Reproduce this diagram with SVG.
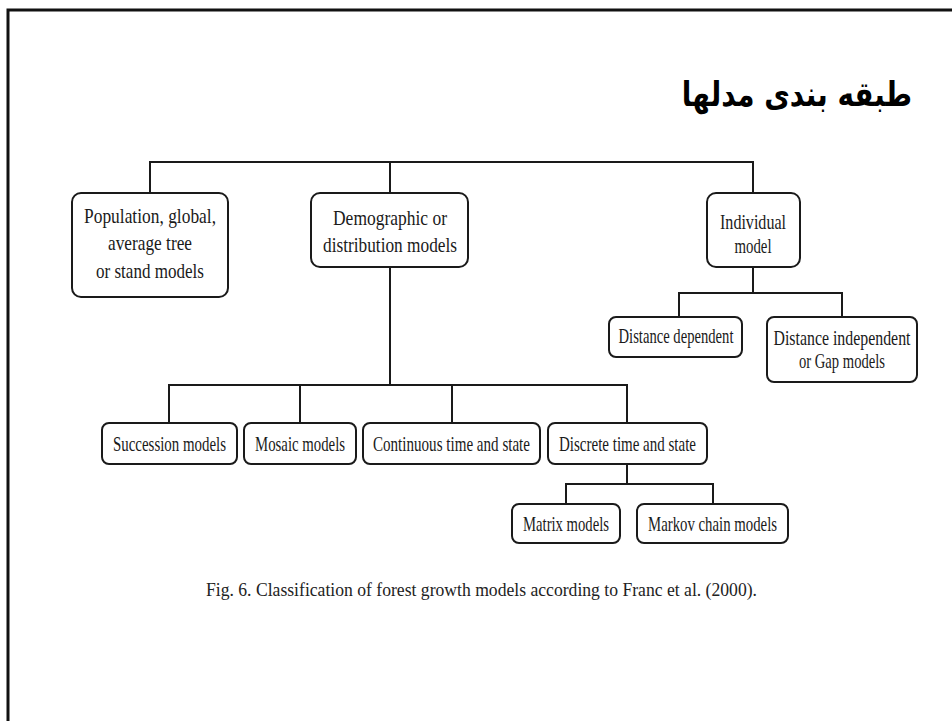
<svg xmlns="http://www.w3.org/2000/svg" width="952" height="721" viewBox="0 0 952 721">
<style>
  .box { fill: #ffffff; stroke: #1a1a1a; stroke-width: 2; }
  .lbl { font-family: "Liberation Serif", "Times New Roman", serif; font-size: 20px; fill: #1a1a1a; text-anchor: middle; }
  .con { fill: none; stroke: #1a1a1a; stroke-width: 2; }
  .cap { font-family: "Liberation Serif", "Times New Roman", serif; font-size: 19px; fill: #222; }
  .title { font-family: "DejaVu Sans", "Noto Sans", sans-serif; font-size: 34px; font-weight: bold; fill: #000; text-anchor: end; }
</style>
<rect x="0" y="0" width="952" height="721" fill="#ffffff"/>
<path d="M8,721 V10 H952" fill="none" stroke="#111" stroke-width="3"/>

<g id="title"><text class="title" x="0" y="0" transform="translate(912,106) scale(0.82,1)">طبقه بندی مدلها</text></g>

<g id="connectors">
  <path class="con" d="M150,193 V162 H753 V193"/>
  <path class="con" d="M390,162 V193"/>
  <path class="con" d="M390,267 V385"/>
  <path class="con" d="M169,423 V385 H627 V423"/>
  <path class="con" d="M300,385 V423"/>
  <path class="con" d="M452,385 V423"/>
  <path class="con" d="M753,267 V293"/>
  <path class="con" d="M679,317 V293 H842 V317"/>
  <path class="con" d="M627,464 V484"/>
  <path class="con" d="M566,504 V484 H713 V504"/>
</g>

<g id="n-population">
  <rect class="box" x="72" y="193" width="156" height="104" rx="9"/>
  <text class="lbl" transform="translate(150,223) scale(0.73,1)" textLength="180.8" lengthAdjust="spacingAndGlyphs">Population, global,</text>
  <text class="lbl" transform="translate(150,250) scale(0.73,1)" textLength="115.1" lengthAdjust="spacingAndGlyphs">average tree</text>
  <text class="lbl" transform="translate(150,278) scale(0.73,1)" textLength="147.9" lengthAdjust="spacingAndGlyphs">or stand models</text>
</g>
<g id="n-demographic">
  <rect class="box" x="311" y="193" width="157" height="74" rx="9"/>
  <text class="lbl" transform="translate(390,225) scale(0.73,1)" textLength="156.2" lengthAdjust="spacingAndGlyphs">Demographic or</text>
  <text class="lbl" transform="translate(390,252) scale(0.73,1)" textLength="183.6" lengthAdjust="spacingAndGlyphs">distribution models</text>
</g>
<g id="n-individual">
  <rect class="box" x="707" y="193" width="93" height="74" rx="9"/>
  <text class="lbl" transform="translate(753,229) scale(0.73,1)" textLength="90.4" lengthAdjust="spacingAndGlyphs" style="font-size:21px">Individual</text>
  <text class="lbl" transform="translate(753,253) scale(0.73,1)" textLength="50.7" lengthAdjust="spacingAndGlyphs" style="font-size:21px">model</text>
</g>
<g id="n-dist-dep">
  <rect class="box" x="609" y="317" width="133" height="40" rx="7"/>
  <text class="lbl" transform="translate(676,343) scale(0.73,1)" textLength="157.5" lengthAdjust="spacingAndGlyphs">Distance dependent</text>
</g>
<g id="n-dist-indep">
  <rect class="box" x="767" y="317" width="150" height="65" rx="7"/>
  <text class="lbl" transform="translate(842,345) scale(0.73,1)" textLength="187.7" lengthAdjust="spacingAndGlyphs">Distance independent</text>
  <text class="lbl" transform="translate(842,368) scale(0.73,1)" textLength="117.8" lengthAdjust="spacingAndGlyphs">or Gap models</text>
</g>
<g id="n-succession">
  <rect class="box" x="102" y="423" width="135" height="41" rx="7"/>
  <text class="lbl" transform="translate(169.5,451) scale(0.73,1)" textLength="154.8" lengthAdjust="spacingAndGlyphs">Succession models</text>
</g>
<g id="n-mosaic">
  <rect class="box" x="244" y="423" width="112" height="41" rx="7"/>
  <text class="lbl" transform="translate(300,451) scale(0.73,1)" textLength="123.3" lengthAdjust="spacingAndGlyphs">Mosaic models</text>
</g>
<g id="n-continuous">
  <rect class="box" x="363" y="423" width="177" height="41" rx="7"/>
  <text class="lbl" transform="translate(451.5,451) scale(0.73,1)" textLength="215.1" lengthAdjust="spacingAndGlyphs">Continuous time and state</text>
</g>
<g id="n-discrete">
  <rect class="box" x="548" y="423" width="159" height="41" rx="7"/>
  <text class="lbl" transform="translate(627.5,451) scale(0.73,1)" textLength="187.7" lengthAdjust="spacingAndGlyphs">Discrete time and state</text>
</g>
<g id="n-matrix">
  <rect class="box" x="512" y="504" width="108" height="39" rx="7"/>
  <text class="lbl" transform="translate(566,531) scale(0.73,1)" textLength="117.8" lengthAdjust="spacingAndGlyphs">Matrix models</text>
</g>
<g id="n-markov">
  <rect class="box" x="637" y="504" width="151" height="39" rx="7"/>
  <text class="lbl" transform="translate(712.5,531) scale(0.73,1)" textLength="176.7" lengthAdjust="spacingAndGlyphs">Markov chain models</text>
</g>

<g id="caption">
  <text class="cap" x="206" y="596" textLength="551" lengthAdjust="spacingAndGlyphs">Fig. 6. Classification of forest growth models according to Franc et al. (2000).</text>
</g>
</svg>
